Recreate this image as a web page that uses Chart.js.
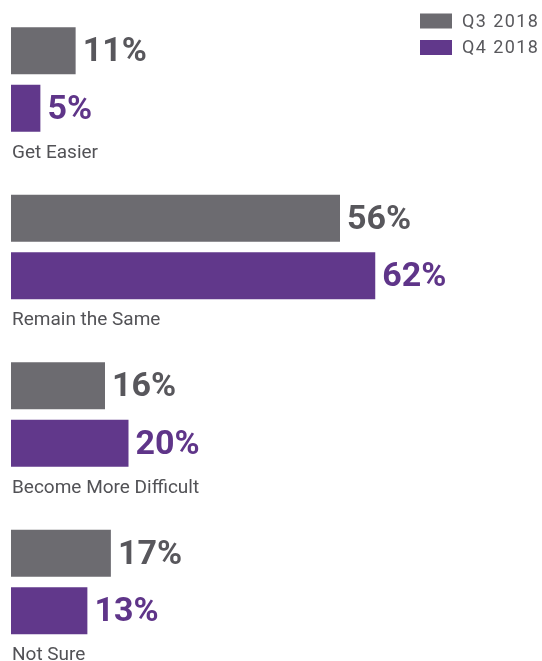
<!DOCTYPE html>
<html>
<head>
<meta charset="utf-8">
<script src="https://cdn.jsdelivr.net/npm/chart.js@4/dist/chart.umd.min.js"></script>
<style>
    html, body { margin: 0; padding: 0; background: #ffffff; }
    #wrap { position: relative; width: 542px; height: 661px; }
</style>
</head>
<body>
<div id="wrap"><canvas id="chartBar"></canvas></div>
<script>
var categories = ['Get Easier', 'Remain the Same', 'Become More Difficult', 'Not Sure'];
var q3_2018 = [11, 56, 16, 17];
var q4_2018 = [5, 62, 20, 13];
var seriesNames = ['Q3 2018', 'Q4 2018'];

var barColors = ['#6c6b70', '#61388b'];
var valueColors = ['#58575c', '#5f3589'];

// value at end of each bar + category name under each group
var barLabels = {
    id: 'barLabels',
    afterDatasetsDraw: function (chart) {
        var ctx = chart.ctx;
        ctx.save();
        ctx.textBaseline = 'middle';
        ctx.textAlign = 'left';
        ctx.font = 'bold 34px Roboto';
        chart.data.datasets.forEach(function (ds, di) {
            var meta = chart.getDatasetMeta(di);
            ctx.fillStyle = valueColors[di];
            meta.data.forEach(function (bar, i) {
                ctx.fillText(ds.data[i] + '%', bar.x + 7, bar.y + 2);
            });
        });

        var last = chart.getDatasetMeta(chart.data.datasets.length - 1);
        ctx.font = '19px Roboto';
        ctx.fillStyle = '#525256';
        ctx.textBaseline = 'alphabetic';
        last.data.forEach(function (bar, i) {
            ctx.fillText(categories[i], 12, bar.y + bar.height / 2 + 26);
        });
        ctx.restore();
    }
};

// legend stacked in the top right corner
var cornerLegend = {
    id: 'cornerLegend',
    afterDraw: function (chart) {
        var ctx = chart.ctx;
        ctx.save();
        ctx.font = '18px Roboto';
        ctx.letterSpacing = '1.4px';
        ctx.textBaseline = 'middle';
        ctx.textAlign = 'left';
        seriesNames.forEach(function (name, i) {
            var cy = 21 + i * 26.5;
            ctx.fillStyle = barColors[i];
            ctx.fillRect(420, cy - 7.5, 32, 15);
            ctx.fillStyle = '#58585c';
            ctx.fillText(name, 462, cy + 1);
        });
        ctx.restore();
    }
};

var ourBar = document.getElementById('chartBar');

var barChart = new Chart(ourBar, {
    type: 'bar',
    data: {
        labels: categories,
        datasets: [
            {
                label: seriesNames[0],
                data: q3_2018,
                backgroundColor: barColors[0],
                borderWidth: 0
            },
            {
                label: seriesNames[1],
                data: q4_2018,
                backgroundColor: barColors[1],
                borderWidth: 0
            }
        ]
    },
    options: {
        indexAxis: 'y',
        responsive: true,
        maintainAspectRatio: false,
        animation: false,
        categoryPercentage: 0.6866,
        barPercentage: 0.817,
        datasets: {
            bar: { clip: false }
        },
        layout: {
            padding: { left: 11, right: 14, top: 79.5, bottom: 79 }
        },
        scales: {
            x: {
                display: false,
                min: 0,
                max: 88
            },
            y: {
                display: false,
                offset: false
            }
        },
        plugins: {
            legend: { display: false },
            tooltip: { enabled: false }
        }
    },
    plugins: [barLabels, cornerLegend]
});
</script>
</body>
</html>
